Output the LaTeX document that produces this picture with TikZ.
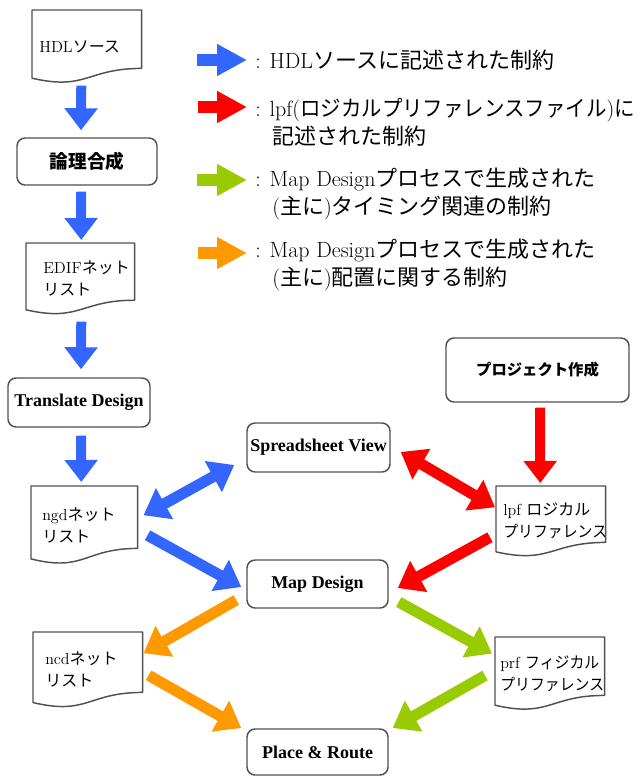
\documentclass[tikz,border=0pt]{standalone}
\usepackage{fontspec}
\newfontfamily\tms{Liberation Serif}
\newfontfamily\jp{Noto Sans CJK JP}
\newfontfamily\jpn{Noto Sans CJK JP}[FakeStretch=0.93]
\usetikzlibrary{arrows.meta,calc}
\newdimen\px \px=0.75pt
\definecolor{cblue}{HTML}{3366FF}
\definecolor{cred}{HTML}{FF0000}
\definecolor{cgreen}{HTML}{99CC00}
\definecolor{corange}{HTML}{FF9900}
\definecolor{cedge}{HTML}{505050}
\tikzset{
  rbox/.style={draw=cedge, line width=1.1pt, rounded corners=6pt, fill=white, inner sep=0pt,
    font=\tms\bfseries\fontsize{13.5}{16}\selectfont},
  docnode/.style={draw=none, inner ysep=0pt, align=left, anchor=north west,
    font=\fontsize{12}{16.5}\selectfont},
  docline/.style={draw=cedge, line width=1.1pt, line join=round},
  flow/.style={line width=7.5pt, -{Triangle[length=16.5pt,width=24pt]}},
  diag/.style={line width=8.25pt, -{Triangle[length=18pt,width=25.5pt]}},
  ddiag/.style={line width=8.25pt, {Triangle[length=18pt,width=25.5pt]}-{Triangle[length=18pt,width=25.5pt]}},
  legarrow/.style={line width=9pt, -{Triangle[length=22.5pt,width=22.5pt]}},
  legtext/.style={anchor=west, align=left, inner sep=0pt, font=\fontsize{16.5}{21}\selectfont},
}
\newcommand\docoutline[1]{%
  \draw[docline] (#1.north west) -- (#1.north east) -- ($(#1.north east)!0.8!(#1.south east)$)
    .. controls ($(#1.north)!0.8!(#1.south)$) and ($(#1.north)!1.107!(#1.south)$) ..
    ($(#1.north west)!0.934!(#1.south west)$) -- cycle;}
\begin{document}
\begin{tikzpicture}[x=0.75pt,y=-0.75pt]
\useasboundingbox (0,0) rectangle (639,777);

% ---------- document shapes ----------
\node[docnode, minimum width=109\px, minimum height=72.5\px, inner xsep=7\px, text width=95\px] (hdl) at (32,10) {HDL{\jp ソース}};
\node[docnode, minimum width=108\px, minimum height=71\px, inner xsep=17\px, text width=74\px] (edif) at (26,243) {EDIF{\jp ネット}\\{\jp リスト}};
\node[docnode, minimum width=106\px, minimum height=77.5\px, inner xsep=11\px, text width=84\px] (ngd) at (31,486) {ngd{\jp ネット}\\{\jp リスト}};
\node[docnode, minimum width=109\px, minimum height=70\px, inner xsep=7\px, text width=95\px] (lpf) at (496,486) {lpf~{\jp ロジカル}\\{\jpn プリファレンス}};
\node[docnode, minimum width=109\px, minimum height=75\px, inner xsep=12\px, text width=85\px] (ncd) at (33,632) {ncd{\jp ネット}\\{\jp リスト}};
\node[docnode, minimum width=109\px, minimum height=72.5\px, inner xsep=5\px, text width=99\px] (prf) at (495,637) {prf~{\jpn フィジカル}\\{\jpn プリファレンス}};
\docoutline{hdl}
\docoutline{edif}
\docoutline{ngd}
\docoutline{lpf}
\docoutline{ncd}
\docoutline{prf}

% ---------- process boxes ----------
\node[rbox, minimum width=140\px, minimum height=47\px] (logic) at (87,161.5) {{\jp\bfseries\fontsize{14}{16}\selectfont 論理合成}};
\node[rbox, minimum width=142\px, minimum height=49\px] (trans) at (79,402.5) {Translate Design};
\node[rbox, minimum width=143\px, minimum height=49\px] (spread) at (318.5,447.5) {Spreadsheet View};
\node[rbox, minimum width=183\px, minimum height=64\px] (proj) at (537.5,370) {{\jp\bfseries\fontsize{11.5}{14}\selectfont プロジェクト作成}};
\node[rbox, minimum width=141\px, minimum height=48\px] (map) at (317.5,584) {Map Design};
\node[rbox, minimum width=141\px, minimum height=46\px] (pr) at (317.5,752) {Place \& Route};

% ---------- vertical flow ----------
\draw[flow, cblue] ($(hdl.south)+(-5.5,2.5)$) -- ($(logic.north)+(-6,-7)$);
\draw[flow, cblue] ($(logic.south)+(-6,6)$) -- ($(edif.north)+(1,-3)$);
\draw[flow, cblue] ($(edif.south)+(1,7)$) -- ($(trans.north)+(2,-8)$);
\draw[flow, cblue] ($(trans.south)+(2,8)$) -- ($(ngd.north)+(-3,-4)$);
\draw[flow, cred] ($(proj.south)+(2.5,5)$) -- ($(lpf.north)+(-10.5,-3)$);

% ---------- diagonal connectors ----------
\draw[ddiag, cblue] ($(ngd.east)+(6,-9.75)$) -- ($(spread.west)+(-12,17.5)$);
\draw[diag, cblue] ($(ngd.east)+(10,10.25)$) -- ($(map.west)+(-5,3)$);
\draw[ddiag, cred] ($(spread.east)+(10,4.5)$) -- ($(lpf.west)+(-1,-14)$);
\draw[diag, cred] ($(lpf.west)+(-6,16)$) -- ($(map.east)+(9,4)$);
\draw[diag, corange] ($(map.west)+(-10,16)$) -- ($(ncd.east)+(1,-16.5)$);
\draw[diag, corange] ($(ncd.east)+(6,5.5)$) -- ($(pr.west)+(-5,-24)$);
\draw[diag, cgreen] ($(map.east)+(10,18)$) -- ($(prf.west)+(-3,-20)$);
\draw[diag, cgreen] ($(prf.west)+(-10,2)$) -- ($(pr.east)+(4,-24)$);

% ---------- legend ----------
\coordinate (lb1) at (197,60);  \coordinate (le1) at (247,60);
\coordinate (lb2) at (198,107); \coordinate (le2) at (247,107);
\coordinate (lb3) at (197,180); \coordinate (le3) at (247,180);
\coordinate (lb4) at (198,253); \coordinate (le4) at (247,253);
\draw[legarrow, cblue] (lb1) -- (le1);
\draw[legarrow, cred] (lb2) -- (le2);
\draw[legarrow, cgreen] (lb3) -- (le3);
\draw[legarrow, corange] (lb4) -- (le4);
\node[legtext] (t1) at (255,60) {: HDL{\jp ソースに記述された制約}};
\node[legtext] (t2) at (255,122) {: lpf({\jpn ロジカルプリファレンスファイル}){\jpn に}\\\hspace*{12.75pt}{\jp 記述された制約}};
\node[legtext] (t3) at (255,194) {: Map Design{\jp プロセスで生成された}\\\hspace*{12.75pt}({\jp 主に}){\jp タイミング関連の制約}};
\node[legtext] (t4) at (255,265.5) {: Map Design{\jp プロセスで生成された}\\\hspace*{12.75pt}({\jp 主に}){\jp 配置に関する制約}};
\end{tikzpicture}
\end{document}
